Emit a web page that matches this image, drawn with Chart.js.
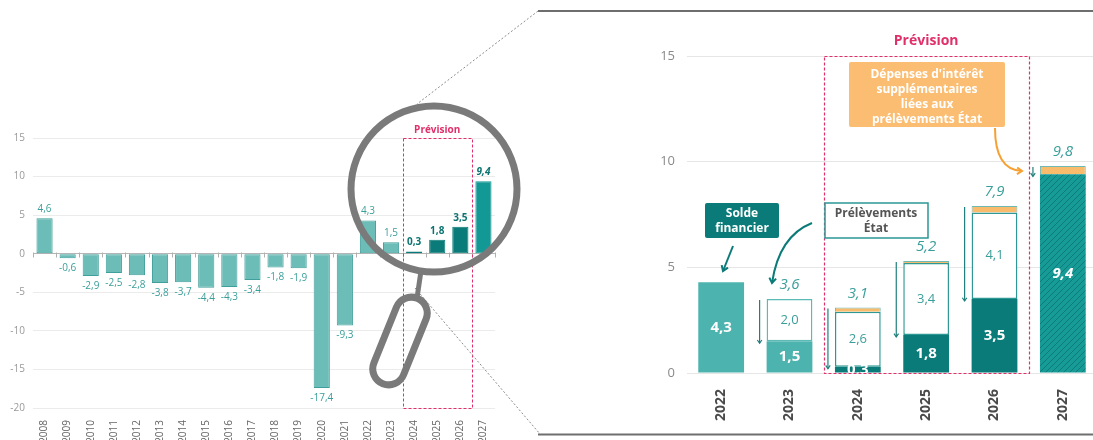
<!DOCTYPE html>
<html lang="fr">
<head>
    <meta charset="UTF-8">
    <title>Solde financier 2008-2027</title>
    <script src="https://cdn.jsdelivr.net/npm/chart.js@4"></script>
    <style>
        html, body {
            margin: 0;
            padding: 0;
            background: #fff;
        }
        body {
            width: 1093px;
            height: 440px;
            position: relative;
            overflow: hidden;
        }
        canvas { display: block; }
        #left { position: absolute; left: 0; top: 0; }
        #right { position: absolute; left: 620px; top: 0; }
    </style>
</head>
<body>
    <canvas id="left" width="1093" height="440"></canvas>
    <canvas id="right" width="480" height="440"></canvas>

    <script>
        // --- data ---
        const yearsAll = ['2008', '2009', '2010', '2011', '2012', '2013', '2014', '2015', '2016', '2017',
                          '2018', '2019', '2020', '2021', '2022', '2023', '2024', '2025', '2026', '2027'];
        const soldeAll = [4.6, -0.6, -2.9, -2.5, -2.8, -3.8, -3.7, -4.4, -4.3, -3.4,
                          -1.8, -1.9, -17.4, -9.3, 4.3, 1.5, 0.3, 1.8, 3.5, 9.4];
        const leftTicks = [15, 10, 5, 0, -5, -10, -15, -20];

        const yearsZoom = ['2022', '2023', '2024', '2025', '2026', '2027'];
        const soldeZoom = [4.3, 1.5, 0.3, 1.8, 3.5, 9.4];
        const prelevZoom = [null, 2.0, 2.6, 3.4, 4.1, null];
        const interetZoom = [null, null, 0.2, 0.1, 0.3, 0.4];
        const totalZoom = [null, 3.6, 3.1, 5.2, 7.9, 9.8];
        const rightTicks = [0, 5, 10, 15];

        const FONT = "'Open Sans', sans-serif";
        const PINK = '#e0306a';
        const TEAL_TXT = '#3a9f9a';
        const DARK = '#0a7b78';
        Chart.defaults.font.family = FONT;

        const fmt = v => v.toFixed(1).replace('.', ',');

        function arrow(ctx, x1, y1, x2, y2, color, lw, head) {
            ctx.strokeStyle = color;
            ctx.lineWidth = lw;
            ctx.beginPath();
            ctx.moveTo(x1, y1);
            ctx.lineTo(x2, y2);
            ctx.stroke();
            arrowHead(ctx, x2, y2, Math.atan2(y2 - y1, x2 - x1), head);
        }
        function arrowHead(ctx, x, y, a, head) {
            ctx.beginPath();
            ctx.moveTo(x - head * Math.cos(a - 0.6), y - head * Math.sin(a - 0.6));
            ctx.lineTo(x, y);
            ctx.lineTo(x - head * Math.cos(a + 0.6), y - head * Math.sin(a + 0.6));
            ctx.stroke();
        }
        function curvedArrow(ctx, x1, y1, cx, cy, x2, y2, color, lw, head) {
            ctx.strokeStyle = color;
            ctx.lineWidth = lw;
            ctx.beginPath();
            ctx.moveTo(x1, y1);
            ctx.quadraticCurveTo(cx, cy, x2, y2);
            ctx.stroke();
            arrowHead(ctx, x2, y2, Math.atan2(y2 - cy, x2 - cx), head);
        }
        function line(ctx, x1, y1, x2, y2) {
            ctx.beginPath();
            ctx.moveTo(x1, y1);
            ctx.lineTo(x2, y2);
            ctx.stroke();
        }

        // --- left chart: full history ---
        function leftFill(y) {
            if (+y === 2027) return '#129995';
            if (+y >= 2024) return DARK;
            return '#6cbcb7';
        }
        function leftBorder(y) {
            if (+y >= 2024) return leftFill(y);
            return '#3f9f9a';
        }

        const leftDeco = {
            id: 'leftDeco',
            afterDatasetsDraw(chart) {
                const { ctx, chartArea, scales: { y } } = chart;
                const meta = chart.getDatasetMeta(0);
                ctx.save();
                // small ticks on the zero line
                ctx.strokeStyle = '#b0b0b0';
                ctx.lineWidth = 1;
                const y0 = Math.round(y.getPixelForValue(0)) + 0.5;
                const step = (chartArea.right - chartArea.left) / yearsAll.length;
                for (let i = 0; i <= yearsAll.length; i++) {
                    const px = Math.round(chartArea.left + i * step) + 0.5;
                    line(ctx, px, y0 - 2, px, y0 + 3);
                }
                // value labels
                ctx.textAlign = 'center';
                ctx.textBaseline = 'middle';
                meta.data.forEach((bar, i) => {
                    const v = soldeAll[i];
                    const yr = +yearsAll[i];
                    if (yr >= 2024) {
                        ctx.font = (yr === 2027 ? 'italic ' : '') + 'bold 10px ' + FONT;
                        ctx.fillStyle = '#0b7471';
                    } else {
                        ctx.font = '10px ' + FONT;
                        ctx.fillStyle = TEAL_TXT;
                    }
                    ctx.fillText(fmt(v), bar.x, v >= 0 ? bar.y - 9 : bar.y + 10);
                });
                ctx.restore();
            },
            afterDraw(chart) {
                const { ctx, chartArea, scales: { x } } = chart;
                ctx.save();
                // forecast box
                const xl = (x.getPixelForValue(15) + x.getPixelForValue(16)) / 2;
                const xr = (x.getPixelForValue(18) + x.getPixelForValue(19)) / 2;
                ctx.setLineDash([3, 2]);
                ctx.strokeStyle = PINK;
                ctx.lineWidth = 1;
                ctx.strokeRect(Math.round(xl) + 0.5, chartArea.top + 0.5, Math.round(xr - xl), chartArea.bottom - chartArea.top);
                ctx.setLineDash([]);
                ctx.font = 'bold 10px ' + FONT;
                ctx.fillStyle = PINK;
                ctx.textAlign = 'center';
                ctx.textBaseline = 'middle';
                ctx.fillText('Prévision', (xl + xr) / 2, chartArea.top - 8);

                // dotted connectors to the zoom panel
                ctx.setLineDash([2, 2]);
                ctx.strokeStyle = '#8c8c8c';
                ctx.lineWidth = 1;
                line(ctx, 538, 11, 417, 104);
                line(ctx, 415, 288, 540, 434);
                ctx.setLineDash([]);
                ctx.strokeStyle = '#6e6e6e';
                ctx.lineWidth = 2;
                line(ctx, 538, 11, 1093, 11);
                line(ctx, 538, 434.5, 1093, 434.5);

                // magnifying glass
                ctx.strokeStyle = '#7a7a7a';
                ctx.lineWidth = 7;
                ctx.beginPath();
                ctx.arc(434, 189, 83, 0, Math.PI * 2);
                ctx.stroke();
                ctx.lineWidth = 5;
                line(ctx, 421, 271, 417, 298);
                ctx.translate(400, 341);
                ctx.rotate(22 * Math.PI / 180);
                ctx.lineWidth = 7;
                ctx.beginPath();
                ctx.roundRect(-16, -46, 32, 92, 16);
                ctx.stroke();
                ctx.restore();
            }
        };

        new Chart(document.getElementById('left'), {
            type: 'bar',
            data: {
                labels: yearsAll,
                datasets: [{
                    data: soldeAll,
                    backgroundColor: yearsAll.map(leftFill),
                    borderColor: yearsAll.map(leftBorder),
                    borderWidth: 1,
                    borderSkipped: false,
                    barPercentage: 0.7,
                    categoryPercentage: 1
                }]
            },
            options: {
                responsive: false,
                animation: false,
                layout: { padding: { top: 138, right: 1093 - 495, left: 0, bottom: 0 } },
                plugins: { legend: { display: false }, tooltip: { enabled: false } },
                scales: {
                    x: {
                        grid: { display: false },
                        border: { display: false },
                        ticks: { color: '#666', font: { size: 10 }, minRotation: 90, maxRotation: 90, padding: 4 },
                        afterFit(s) { s.height = 32; }
                    },
                    y: {
                        min: -20,
                        max: 15,
                        afterBuildTicks(s) { s.ticks = leftTicks.map(v => ({ value: v })); },
                        ticks: { color: '#999', font: { size: 10 }, padding: 8 },
                        grid: {
                            color: c => c.tick && c.tick.value === 0 ? '#b5b5b5' : '#ebebeb',
                            drawTicks: false
                        },
                        border: { display: false },
                        afterFit(s) { s.width = 33; }
                    }
                }
            },
            plugins: [leftDeco]
        });

        // --- right chart: zoom 2022-2027 ---
        const rctx = document.getElementById('right').getContext('2d');
        function makeHatch() {
            const c = document.createElement('canvas');
            c.width = 6;
            c.height = 6;
            const g = c.getContext('2d');
            g.fillStyle = '#169b97';
            g.fillRect(0, 0, 6, 6);
            g.strokeStyle = '#0b7c79';
            g.lineWidth = 1;
            g.beginPath();
            g.moveTo(0, 6); g.lineTo(6, 0);
            g.moveTo(-1, 1); g.lineTo(1, -1);
            g.moveTo(5, 7); g.lineTo(7, 5);
            g.stroke();
            return rctx.createPattern(c, 'repeat');
        }
        const hatch = makeHatch();
        function soldeFill(y) {
            if (+y === 2027) return hatch;
            if (+y >= 2024) return DARK;
            return '#4db3ae';
        }
        const P = px => px - 620; // page x -> right canvas x

        const rightDeco = {
            id: 'rightDeco',
            afterDatasetsDraw(chart) {
                const { ctx, chartArea, scales: { x, y } } = chart;
                const mS = chart.getDatasetMeta(0);
                const mP = chart.getDatasetMeta(1);
                ctx.save();
                ctx.textAlign = 'center';
                ctx.textBaseline = 'middle';

                // solde labels (clipped to the plot)
                ctx.save();
                ctx.beginPath();
                ctx.rect(chartArea.left, chartArea.top, chartArea.right - chartArea.left, chartArea.bottom - chartArea.top);
                ctx.clip();
                mS.data.forEach((bar, i) => {
                    ctx.font = (yearsZoom[i] === '2027' ? 'italic ' : '') + 'bold 15px ' + FONT;
                    ctx.fillStyle = '#fff';
                    ctx.fillText(fmt(soldeZoom[i]), bar.x, (bar.y + bar.base) / 2);
                });
                ctx.restore();

                // prélèvements labels
                ctx.font = '13px ' + FONT;
                ctx.fillStyle = TEAL_TXT;
                mP.data.forEach((bar, i) => {
                    if (prelevZoom[i] == null) return;
                    ctx.fillText(fmt(prelevZoom[i]), bar.x, (bar.y + bar.base) / 2);
                });

                // totals and down arrows
                mS.data.forEach((bar, i) => {
                    if (totalZoom[i] == null) return;
                    const sum = soldeZoom[i] + (prelevZoom[i] || 0) + (interetZoom[i] || 0);
                    const top = y.getPixelForValue(sum);
                    ctx.font = 'italic 15px ' + FONT;
                    ctx.fillStyle = TEAL_TXT;
                    ctx.fillText(fmt(totalZoom[i]), bar.x, top - 14);
                    const ax = bar.x - bar.width / 2 - 7;
                    arrow(ctx, ax, top + 1, ax, y.getPixelForValue(soldeZoom[i]) + 2, '#1f7f7c', 1.2, 4);
                });
                ctx.restore();
            },
            afterDraw(chart) {
                const { ctx, chartArea, scales: { x } } = chart;
                ctx.save();
                // forecast box
                const xl = (x.getPixelForValue(1) + x.getPixelForValue(2)) / 2;
                const xr = (x.getPixelForValue(4) + x.getPixelForValue(5)) / 2;
                ctx.setLineDash([3, 2]);
                ctx.strokeStyle = PINK;
                ctx.lineWidth = 1.2;
                ctx.strokeRect(Math.round(xl) + 0.5, chartArea.top + 0.5, Math.round(xr - xl), chartArea.bottom - chartArea.top);
                ctx.setLineDash([]);
                ctx.textAlign = 'center';
                ctx.textBaseline = 'middle';
                ctx.font = 'bold 14px ' + FONT;
                ctx.fillStyle = PINK;
                ctx.fillText('Prévision', (xl + xr) / 2, chartArea.top - 15);

                // interest callout
                ctx.fillStyle = '#fbbd72';
                ctx.beginPath();
                ctx.roundRect(P(849), 62, 156, 65, 2);
                ctx.fill();
                ctx.fillStyle = '#fff';
                ctx.font = 'bold 12px ' + FONT;
                ['Dépenses d\'intérêt', 'supplémentaires', 'liées aux', 'prélèvements État']
                    .forEach((t, k) => ctx.fillText(t, P(927), 75 + k * 14.7));
                curvedArrow(ctx, P(995), 128, P(995), 170, P(1022), 171, '#f5a133', 2, 6);

                // solde financier callout
                ctx.fillStyle = DARK;
                ctx.beginPath();
                ctx.roundRect(P(705), 203, 74, 35, 2);
                ctx.fill();
                ctx.fillStyle = '#fff';
                ctx.fillText('Solde', P(742), 214);
                ctx.fillText('financier', P(742), 229);
                arrow(ctx, P(733), 246, P(723), 271, DARK, 2, 6);

                // prélèvements callout
                ctx.fillStyle = '#fff';
                ctx.strokeStyle = '#2a9894';
                ctx.lineWidth = 1.5;
                ctx.beginPath();
                ctx.rect(P(825), 203, 103, 35);
                ctx.fill();
                ctx.stroke();
                ctx.fillStyle = '#555';
                ctx.fillText('Prélèvements', P(876), 214);
                ctx.fillText('État', P(876), 229);
                curvedArrow(ctx, P(812), 223, P(779), 236, P(772), 283, DARK, 2, 6);
                ctx.restore();
            }
        };

        new Chart(rctx, {
            type: 'bar',
            data: {
                labels: yearsZoom,
                datasets: [
                    {
                        label: 'Solde financier',
                        data: soldeZoom,
                        backgroundColor: yearsZoom.map(soldeFill),
                        borderWidth: 0
                    },
                    {
                        label: 'Prélèvements État',
                        data: prelevZoom,
                        backgroundColor: '#fff',
                        borderColor: yearsZoom.map(y => +y === 2023 ? '#5bbab5' : '#2e9994'),
                        borderWidth: 1.5,
                        borderSkipped: false
                    },
                    {
                        label: 'Dépenses d\'intérêt supplémentaires',
                        data: interetZoom,
                        backgroundColor: '#f9bc6c',
                        borderColor: '#6fb9b4',
                        borderWidth: 1,
                        borderSkipped: 'start'
                    }
                ]
            },
            options: {
                responsive: false,
                animation: false,
                datasets: { bar: { barPercentage: 0.67, categoryPercentage: 1 } },
                layout: { padding: { top: 56, right: 3, left: 0, bottom: 0 } },
                plugins: { legend: { display: false }, tooltip: { enabled: false } },
                scales: {
                    x: {
                        stacked: true,
                        grid: { display: false },
                        border: { display: false },
                        ticks: { color: '#4a4a4a', font: { size: 14, weight: 'bold' }, minRotation: 90, maxRotation: 90, padding: 8 },
                        afterFit(s) { s.height = 67; }
                    },
                    y: {
                        stacked: true,
                        min: 0,
                        max: 15,
                        afterBuildTicks(s) { s.ticks = rightTicks.map(v => ({ value: v })); },
                        ticks: { color: '#8a8a8a', font: { size: 13 }, padding: 12 },
                        grid: { color: '#e6e6e6', drawTicks: false },
                        border: { display: false },
                        afterFit(s) { s.width = 67; }
                    }
                }
            },
            plugins: [rightDeco]
        });
    </script>
</body>
</html>
